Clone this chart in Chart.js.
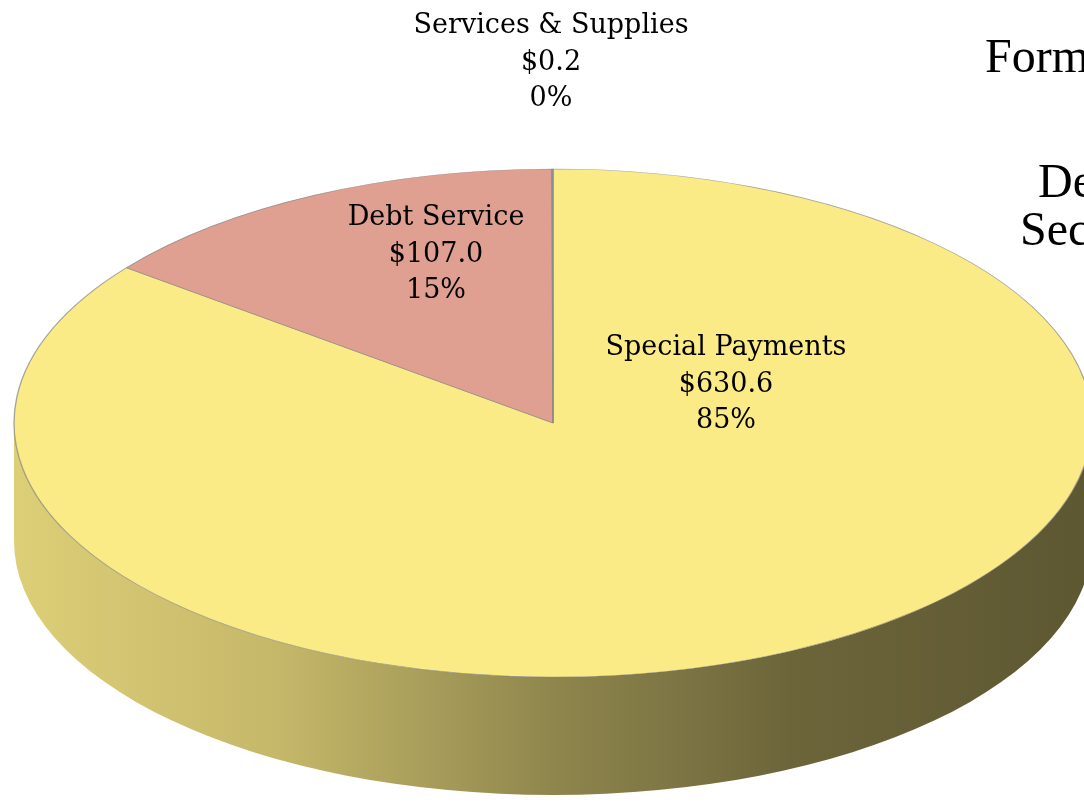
<!DOCTYPE html>
<html>
<head>
<meta charset="utf-8">
<script src="https://cdn.jsdelivr.net/npm/chart.js@4/dist/chart.umd.min.js"></script>
<style>
html, body { margin: 0; padding: 0; background: #fff; }
#wrap { width: 1084px; height: 802px; position: relative; }
</style>
</head>
<body>
<div id="wrap"><canvas id="pie"></canvas></div>
<script>
// values in $ millions
var categories = ['Special Payments', 'Debt Service', 'Services & Supplies'];
var amounts = [630.6, 107.0, 0.2];
var sliceColors = ['#FBEB87', '#E0A091', '#9DB3CF'];
var titleLines = ['Form', 'De', 'Sec'];

// where the flattened pie goes on the page
var E = { x: 553, y: 423, rx: 539, ry: 254, depth: 118 };
// label anchors: centre x, baseline of first line
var labelPos = [[726, 355], [436, 225], [551, 33]];
var titlePos = [[985, 72], [1038, 197], [1020, 245]];

var total = amounts.reduce(function(a, b) { return a + b; }, 0);

function shade(hex, f) {
    var n = parseInt(hex.slice(1), 16);
    var r = Math.round(((n >> 16) & 255) * f);
    var g = Math.round(((n >> 8) & 255) * f);
    var b = Math.round((n & 255) * f);
    return 'rgb(' + r + ',' + g + ',' + b + ')';
}

// part of an arc that faces the viewer (lower half, 0..PI)
function frontPart(a0, a1) {
    var out = [];
    for (var k = -1; k <= 1; k++) {
        var base = k * 2 * Math.PI;
        var lo = Math.max(a0, base), hi = Math.min(a1, base + Math.PI);
        if (hi > lo) out.push([lo - base, hi - base]);
    }
    return out;
}

var pie3d = {
    id: 'pie3d',
    beforeDatasetsDraw: function(chart) {
        var ctx = chart.ctx;
        var arcs = chart.getDatasetMeta(0).data;
        var p = arcs[0].getProps(['x', 'y', 'outerRadius'], true);
        ctx.save();
        // side wall
        arcs.forEach(function(arc, i) {
            var a = arc.getProps(['startAngle', 'endAngle'], true);
            frontPart(a.startAngle, a.endAngle).forEach(function(s) {
                var col = sliceColors[i];
                var g = ctx.createLinearGradient(E.x - E.rx, 0, E.x + E.rx, 0);
                g.addColorStop(0, shade(col, 0.88));
                g.addColorStop(0.25, shade(col, 0.78));
                g.addColorStop(0.5, shade(col, 0.57));
                g.addColorStop(0.72, shade(col, 0.43));
                g.addColorStop(1, shade(col, 0.37));
                ctx.beginPath();
                ctx.ellipse(E.x, E.y, E.rx, E.ry, 0, s[0], s[1]);
                ctx.ellipse(E.x, E.y + E.depth, E.rx, E.ry, 0, s[1], s[0], true);
                ctx.closePath();
                ctx.fillStyle = g;
                ctx.fill();
            });
        });
        // squash the pie into the top face
        ctx.translate(E.x, E.y);
        ctx.scale(E.rx / p.outerRadius, E.ry / p.outerRadius);
        ctx.translate(-p.x, -p.y);
    },
    afterDatasetsDraw: function(chart) {
        var ctx = chart.ctx;
        ctx.restore();
        ctx.save();
        ctx.fillStyle = '#000';
        ctx.textAlign = 'center';
        ctx.textBaseline = 'alphabetic';
        ctx.font = '27px "DejaVu Serif"';
        categories.forEach(function(name, i) {
            var lines = [name, '$' + amounts[i].toFixed(1), Math.round(amounts[i] / total * 100) + '%'];
            lines.forEach(function(t, j) {
                ctx.fillText(t, labelPos[i][0], labelPos[i][1] + j * 36.5);
            });
        });
        ctx.textAlign = 'left';
        ctx.font = '48px "Liberation Serif"';
        titleLines.forEach(function(t, i) {
            ctx.fillText(t, titlePos[i][0], titlePos[i][1]);
        });
        ctx.restore();
    }
};

new Chart(document.getElementById('pie'), {
    type: 'pie',
    data: {
        labels: categories,
        datasets: [{
            data: amounts,
            backgroundColor: sliceColors,
            borderColor: 'rgba(130,130,130,0.7)',
            borderWidth: 1,
            clip: false
        }]
    },
    options: {
        responsive: true,
        maintainAspectRatio: false,
        animation: false,
        events: [],
        layout: { padding: 0 },
        plugins: {
            legend: { display: false },
            tooltip: { enabled: false },
            title: { display: false }
        }
    },
    plugins: [pie3d]
});
</script>
</body>
</html>
